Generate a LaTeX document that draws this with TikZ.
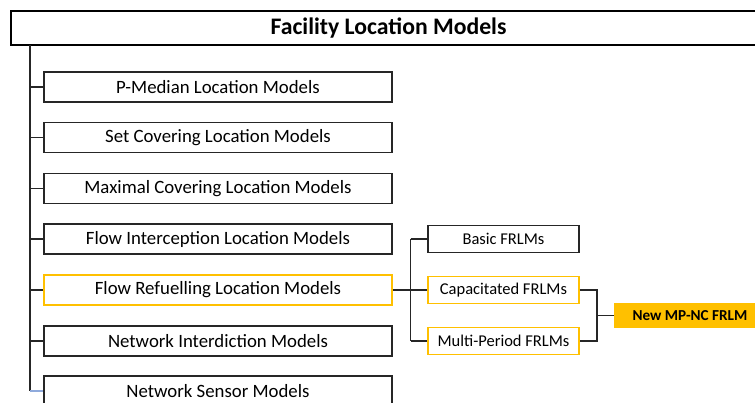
\documentclass[tikz,border=0pt]{standalone}
\usepackage{fontspec}
\setmainfont{Carlito}
\definecolor{gold}{HTML}{FFC000}
\definecolor{linkblue}{HTML}{8FAADC}
\definecolor{edge}{HTML}{262626}
\begin{document}
\begin{tikzpicture}[x=1pt,y=-1pt,
  mainbox/.style={draw=edge,line width=1.3pt,minimum width=348pt,minimum height=30pt,inner sep=0pt,font=\fontsize{18.8}{20}\selectfont},
  subbox/.style={draw=edge,line width=1.2pt,minimum width=151pt,minimum height=27pt,inner sep=0pt,font=\fontsize{16.5}{18}\selectfont},
  goldbox/.style={draw=gold},
  conn/.style={draw=edge,line width=1.4pt}]
\clip (0,0) rectangle (755,403);
\fill[white] (0,0) rectangle (755,403);
\node[draw=black,line width=2pt,minimum width=755pt,minimum height=33.5pt,inner sep=0pt,font=\bfseries\fontsize{23.7}{25}\selectfont] (title) at (388.5,28) {Facility Location Models};
\node[mainbox] (pm) at (218,87) {P-Median Location Models};
\node[mainbox] (sc) at (218,137.5) {Set Covering Location Models};
\node[mainbox] (mc) at (218,188.5) {Maximal Covering Location Models};
\node[mainbox] (fi) at (218,239) {Flow Interception Location Models};
\node[mainbox,goldbox] (fr) at (218,290) {Flow Refuelling Location Models};
\node[mainbox] (ni) at (218,341) {Network Interdiction Models};
\node[mainbox] (ns) at (218,391) {Network Sensor Models};
\node[subbox] (basic) at (503.5,239) {Basic FRLMs};
\node[subbox,goldbox] (cap) at (503.5,290) {Capacitated FRLMs};
\node[subbox,goldbox] (multi) at (503.5,341) {Multi-Period FRLMs};
\node[fill=gold,minimum width=152pt,minimum height=25pt,inner sep=0pt,font=\bfseries\fontsize{15.2}{17}\selectfont] (new) at (690,315.5) {New MP-NC FRLM};
\coordinate (t0) at (30,44.7);
\coordinate (v) at (410.5,0);
\coordinate (w) at (597,0);
\draw[conn] (t0) -- (t0 |- ns.west);
\foreach \b in {pm,sc,mc,fi,fr,ni} {\draw[conn] (t0 |- \b.west) -- (\b.west);}
\draw[linkblue,line width=1.5pt] (t0 |- ns.west) -- (ns.west);
\draw[conn] (fr.east) -- (cap.west);
\draw[conn] (v |- basic.west) -- (v |- multi.west);
\draw[conn] (v |- basic.west) -- (basic.west);
\draw[conn] (v |- multi.west) -- (multi.west);
\draw[conn] (cap.east) -- (w |- cap.east) -- (w |- multi.east) -- (multi.east);
\draw[conn] (w |- new.west) -- (new.west);
\end{tikzpicture}
\end{document}
